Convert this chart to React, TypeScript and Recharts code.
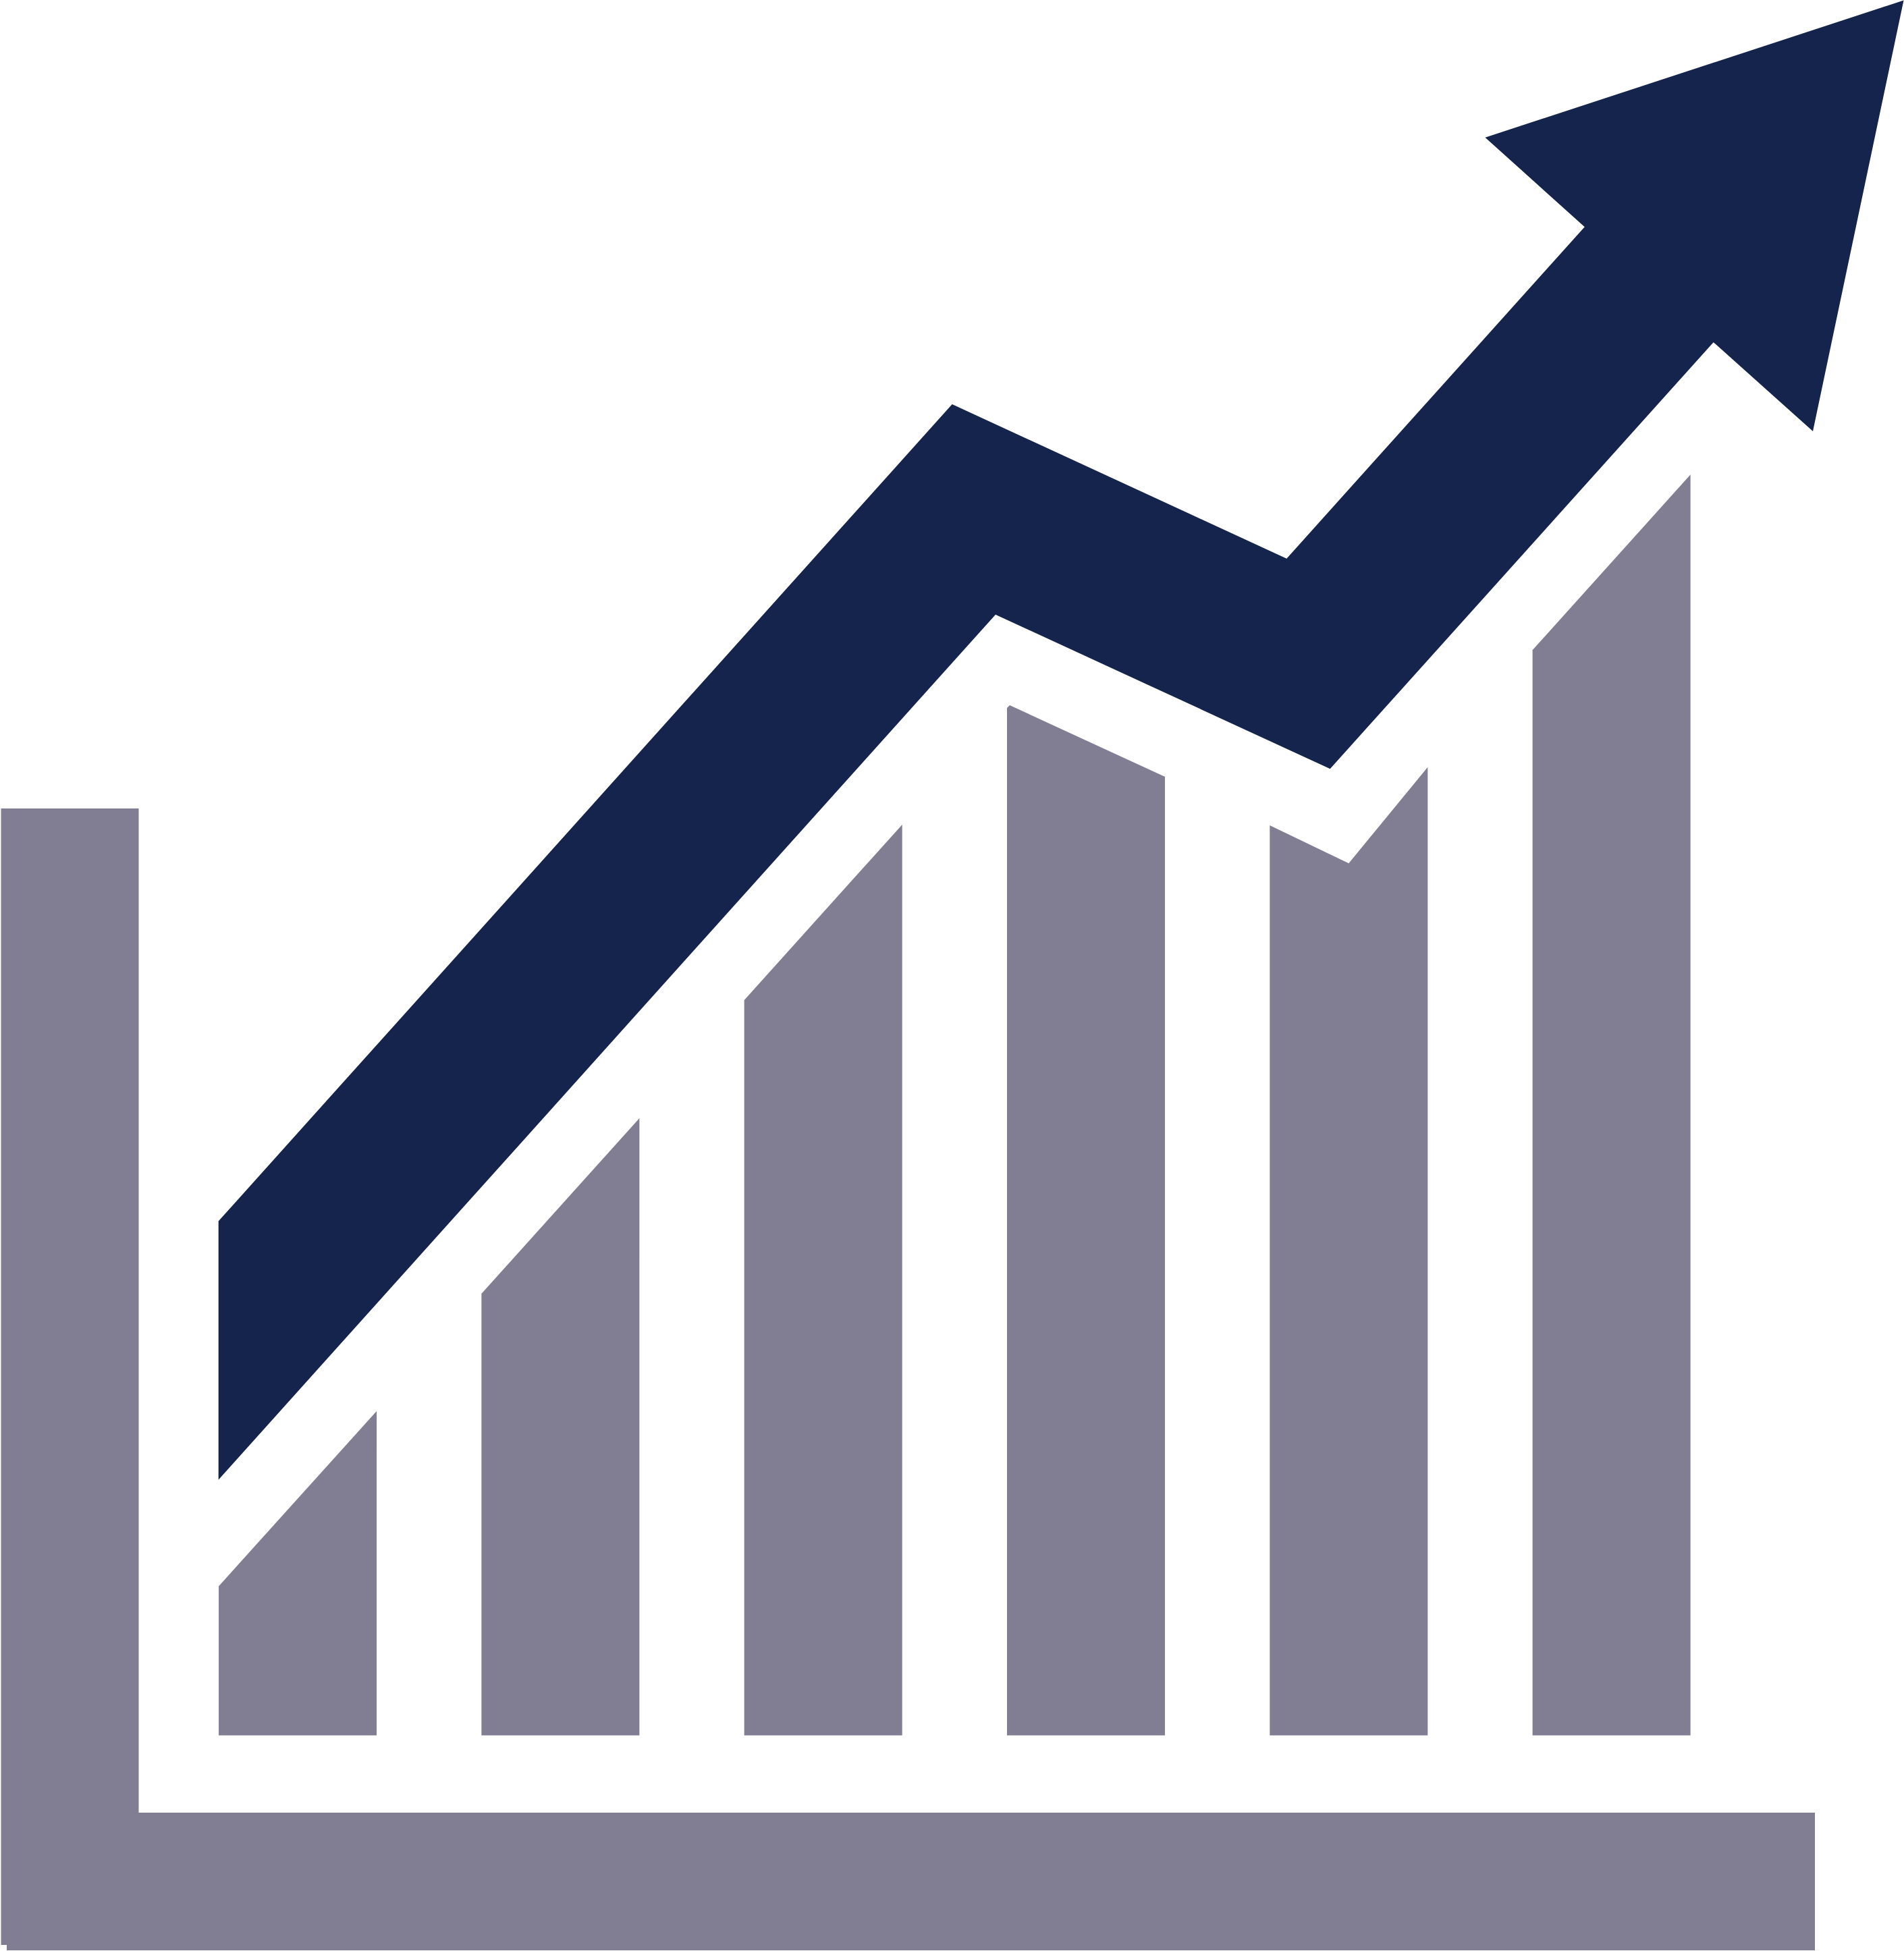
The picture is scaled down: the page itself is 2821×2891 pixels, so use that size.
import React from "react";
import { ComposedChart, Bar, Scatter, XAxis, YAxis } from "recharts";

const WIDTH = 2821;
const HEIGHT = 2891;
const NAVY = "#15244C";
const GREY = "#817E94";

const categories = ["1", "2", "3", "4", "5", "6"];
const leftTops = [221.1, 654.5, 1089.5, 1522.5, 1348.5, 1608.2];
const notchFractions = [null, null, null, 0.017, 0.5, null];
const notchTops = [null, null, null, 1526.5, 1292.2, null];
const rightTops = [480.5, 914.5, 1349.5, 1420.5, 1434.8, 1868.2];

const arrowXs = [323.7, 1410.7, 1906.3, 2347.8, 2200.5, 2820.5, 2686, 2538.7, 1970.7, 1475, 323.7];
const arrowValues = [761.9, 1972.5, 1743.8, 2235.2, 2367.8, 2571, 1932.6, 2064.3, 1432.2, 1660.8, 378.8];

const axisXs = [1.5, 205.5, 205.5, 2689, 2689, 10, 10, 1.5];
const axisValues = [1373.5, 1373.5, -114.5, -114.5, -318.5, -318.5, -310.5, -310.5];

const barRows = categories.map((name, i) => ({
  name,
  left: leftTops[i],
  notchAt: notchFractions[i],
  notch: notchTops[i],
  right: rightTops[i],
  peak: Math.max(leftTops[i], rightTops[i], notchTops[i] ?? 0),
}));
const arrowRows = arrowXs.map((x, i) => ({ x, value: arrowValues[i] }));
const axisRows = axisXs.map((x, i) => ({ x, value: axisValues[i] }));

function SlantedBar(props: any) {
  const { x, y, width, height, payload, fill } = props;
  const unit = height / payload.peak;
  const base = y + height;
  const pts: number[][] = [[x, base], [x, base - payload.left * unit]];
  if (payload.notchAt != null) {
    pts.push([x + width * payload.notchAt, base - payload.notch * unit]);
  }
  pts.push([x + width, base - payload.right * unit], [x + width, base]);
  return <polygon points={pts.map((p) => p.join(",")).join(" ")} fill={fill} />;
}

const noMarker = () => <g />;

export default function App() {
  return (
    <div style={{ position: "absolute", left: 0, top: 0, width: WIDTH, height: HEIGHT }}>
      <ComposedChart width={WIDTH} height={HEIGHT} data={barRows} margin={{ top: 0, right: 0, bottom: 0, left: 0 }}>
        <XAxis xAxisId="cat" dataKey="name" type="category" hide padding={{ left: 246.04, right: 239.04 }} />
        <XAxis xAxisId="num" dataKey="x" type="number" hide domain={[0, WIDTH]} allowDataOverflow />
        <YAxis yAxisId="val" type="number" hide domain={[-319.5, 2571.5]} allowDataOverflow />
        <Scatter
          xAxisId="num"
          yAxisId="val"
          data={axisRows}
          dataKey="value"
          fill={GREY}
          line={{ fill: GREY, stroke: "none" }}
          shape={noMarker}
          isAnimationActive={false}
        />
        <Bar
          xAxisId="cat"
          yAxisId="val"
          dataKey="peak"
          fill={GREY}
          barSize={234}
          shape={SlantedBar}
          isAnimationActive={false}
        />
        <Scatter
          xAxisId="num"
          yAxisId="val"
          data={arrowRows}
          dataKey="value"
          fill={NAVY}
          line={{ fill: NAVY, stroke: "none" }}
          shape={noMarker}
          isAnimationActive={false}
        />
      </ComposedChart>
    </div>
  );
}
